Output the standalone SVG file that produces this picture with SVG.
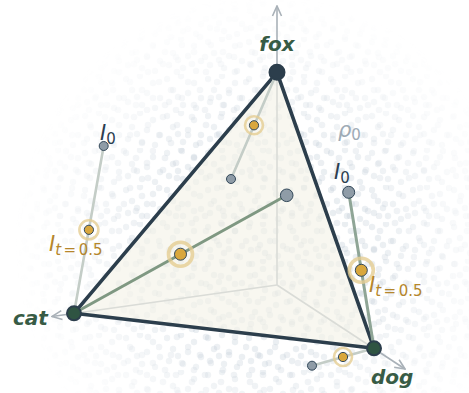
<svg xmlns="http://www.w3.org/2000/svg" width="469" height="393" viewBox="0 0 469 393">
<style>
.axis{stroke:#a9b1b8;stroke-width:1.6;fill:none}
.edge{stroke:#2c3e4c;stroke-width:3.6;fill:none;stroke-linejoin:round}
.trl{stroke:#c4cdc7;stroke-width:2.6;fill:none;stroke-linecap:round}
.trd{stroke:#7f9882;stroke-width:3;fill:none;stroke-linecap:round}
.trm{stroke:#8fa596;stroke-width:3;fill:none;stroke-linecap:round}
.gray{fill:#8f9ca7;stroke:#34495a;stroke-width:1}
.gold{fill:#d9a73d;stroke:#34495a;stroke-width:1}
.ring{fill:none;stroke:#e5cd92;stroke-opacity:0.8}
.vtx{stroke:#2c3e4c;stroke-width:2}
.name{font-family:"DejaVu Sans",sans-serif;font-weight:bold;font-style:italic;font-size:20px;fill:#375b45}
.math{font-family:"DejaVu Sans",sans-serif;font-size:21px}
.sub{font-size:15px;font-style:normal}
.it{font-style:italic}
</style>
<defs>
<pattern id="pa" width="41" height="37" patternUnits="userSpaceOnUse">
<g fill="#b3c2ce" fill-opacity="0.32">
<circle cx="3" cy="5" r="3.2"/><circle cx="17" cy="2" r="3.2"/><circle cx="30" cy="9" r="3.2"/><circle cx="9" cy="16" r="3.2"/><circle cx="24" cy="19" r="3.2"/><circle cx="37" cy="24" r="3.2"/><circle cx="5" cy="28" r="3.2"/><circle cx="19" cy="31" r="3.2"/><circle cx="32" cy="34" r="3.2"/><circle cx="14" cy="23" r="3.2"/>
</g>
</pattern>
<pattern id="pb" width="29" height="53" patternUnits="userSpaceOnUse" patternTransform="translate(11 7)">
<g fill="#a9bac8" fill-opacity="0.27">
<circle cx="7" cy="4" r="3.3"/><circle cx="21" cy="12" r="3.3"/><circle cx="3" cy="22" r="3.3"/><circle cx="15" cy="30" r="3.3"/><circle cx="26" cy="38" r="3.3"/><circle cx="9" cy="45" r="3.3"/><circle cx="20" cy="50" r="3.3"/>
</g>
</pattern>
<radialGradient id="rg" gradientUnits="userSpaceOnUse" cx="265" cy="245" r="250">
<stop offset="0" stop-color="#fff" stop-opacity="1"/>
<stop offset="0.45" stop-color="#fff" stop-opacity="0.8"/>
<stop offset="0.75" stop-color="#fff" stop-opacity="0.3"/>
<stop offset="1" stop-color="#fff" stop-opacity="0"/>
</radialGradient>
<mask id="m" maskUnits="userSpaceOnUse" x="0" y="0" width="469" height="393">
<rect width="469" height="393" fill="url(#rg)"/>
</mask>
<marker id="arr" viewBox="0 0 12 12" refX="11" refY="6" markerWidth="12" markerHeight="12" markerUnits="userSpaceOnUse" orient="auto">
<path d="M1,1.5 L11,6 L1,10.5" fill="none" stroke="#a9b1b8" stroke-width="1.6"/>
</marker>
</defs>
<rect width="469" height="393" fill="#ffffff"/>
<g id="background" mask="url(#m)">
<rect width="469" height="393" fill="url(#pa)"/>
<rect width="469" height="393" fill="url(#pb)"/>
</g>
<g id="connectors">
<line class="axis" x1="277" y1="285" x2="277" y2="6" marker-end="url(#arr)"/>
<line class="axis" x1="277" y1="285" x2="52" y2="316.5" marker-end="url(#arr)"/>
<line class="axis" x1="277" y1="285" x2="405" y2="369" marker-end="url(#arr)"/>
<polygon id="face" points="277,72.3 74,313.3 374,348.3" fill="#f5f2e8" fill-opacity="0.65"/>
<polyline class="edge" points="74,313.3 277,72.3 374,348.3 74,313.3 277,72.3"/>
<line class="trl" x1="231" y1="179" x2="277" y2="72.3"/>
<line class="trl" x1="103.7" y1="146" x2="74" y2="313.3"/>
<line class="trl" x1="312" y1="365.7" x2="374" y2="348.3"/>
<line class="trd" x1="286.7" y1="195.3" x2="74" y2="313.3"/>
<line class="trm" x1="348.7" y1="192.3" x2="374" y2="348.3"/>
</g>
<g id="fox">
<circle class="vtx" cx="277" cy="72.3" r="7.5" fill="#2c3e4c"/>
<text class="name" x="277" y="51" text-anchor="middle">fox</text>
</g>
<g id="cat">
<circle class="vtx" cx="74" cy="313.3" r="7" fill="#2f5442"/>
<text class="name" x="13" y="325">cat</text>
</g>
<g id="dog">
<circle class="vtx" cx="374" cy="348.3" r="7" fill="#2f5442"/>
<text class="name" x="371" y="384">dog</text>
</g>
<g id="rho">
<text class="math it" x="338" y="137" fill="#9eabb6" font-size="22">ρ<tspan class="sub" dy="3">0</tspan></text>
</g>
<g id="point-fox">
<circle class="gray" cx="231" cy="179" r="4.5"/>
<circle class="ring" cx="254" cy="125.3" r="9" stroke-width="2.6"/>
<circle class="gold" cx="254" cy="125.3" r="4.6"/>
</g>
<g id="point-center">
<circle class="gray" cx="286.7" cy="195.3" r="6.3"/>
<circle class="ring" cx="180.5" cy="254.2" r="12" stroke-width="3.6"/>
<circle class="gold" cx="180.5" cy="254.2" r="6"/>
</g>
<g id="point-left">
<circle class="gray" cx="103.7" cy="146" r="4.5"/>
<circle class="ring" cx="88.9" cy="229.8" r="9.5" stroke-width="2.6"/>
<circle class="gold" cx="88.9" cy="229.8" r="4.6"/>
<text class="math it" x="100" y="140" fill="#2c3e50">I<tspan class="sub" dy="4">0</tspan></text>
<text class="math it" x="49" y="251" fill="#b5862c">I<tspan class="sub it" dy="4">t</tspan><tspan class="sub" dx="2.5">=</tspan><tspan class="sub" dx="2.5">0.5</tspan></text>
</g>
<g id="point-right">
<circle class="gray" cx="348.7" cy="192.3" r="6"/>
<circle class="ring" cx="361.3" cy="270.3" r="12" stroke-width="3.6"/>
<circle class="gold" cx="361.3" cy="270.3" r="6"/>
<text class="math it" x="334" y="179" fill="#2c3e50">I<tspan class="sub" dy="4">0</tspan></text>
<text class="math it" x="369" y="292" fill="#b5862c">I<tspan class="sub it" dy="4">t</tspan><tspan class="sub" dx="2.5">=</tspan><tspan class="sub" dx="2.5">0.5</tspan></text>
</g>
<g id="point-bottom">
<circle class="gray" cx="312" cy="365.7" r="4.5"/>
<circle class="ring" cx="343" cy="357" r="9" stroke-width="2.6"/>
<circle class="gold" cx="343" cy="357" r="4.6"/>
</g>
</svg>
